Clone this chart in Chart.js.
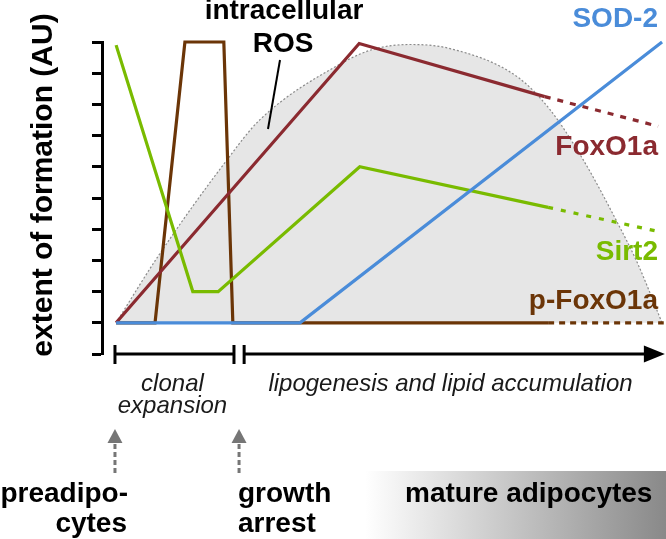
<!DOCTYPE html>
<html><head><meta charset="utf-8">
<script src="https://cdn.jsdelivr.net/npm/chart.js@4/dist/chart.umd.min.js"></script>
<style>html,body{margin:0;padding:0;background:#fff}canvas{display:block}</style>
</head><body>
<canvas id="c" width="666" height="539"></canvas>
<script>
// ---- data (schematic, arbitrary units) ----
const seriesNames = ['SOD-2', 'Sirt2', 'FoxO1a', 'p-FoxO1a', 'intracellular ROS'];
const sod2X = [2.5, 35.1, 99.3];
const sod2Y = [0, 0, 9];
const sirt2X = [2.5, 16.1, 20.6, 45.7, 79.1, 99.3];
const sirt2Y = [8.9, 1.0, 1.0, 5.0, 3.7, 2.9];
const foxo1aX = [2.5, 45.6, 78.5, 98.6];
const foxo1aY = [0, 8.95, 7.25, 6.3];
const pFoxo1aX = [2.5, 9.4, 14.7, 21.6, 23.2, 79.1, 99.6];
const pFoxo1aY = [0, 0, 9, 9, 0, 0, 0];
const rosX = [2.5, 9.9, 22.2, 28.0, 42.7, 48.0, 54.6, 61.7, 73.6, 79.4, 85.3, 91.3, 94.9, 99.3];
const rosY = [0, 2.12, 5.23, 6.51, 8.34, 8.76, 8.92, 8.79, 7.89, 6.84, 5.23, 3.24, 1.93, 0];
// index of first segment that is a projected (dashed) trend
const sirt2DashFrom = 4;
const foxo1aDashFrom = 2;
const pFoxo1aDashFrom = 5;
const yMin = -1, yMax = 9;
const yTitle = 'extent of formation (AU)';
const phaseLabels = [['clonal', 'expansion'], ['lipogenesis and lipid accumulation']];
const phaseStart = [2.3, 25.2];
const phaseEnd = [23.4, 99.8];
const stageLabels = [['preadipo-', 'cytes'], ['growth', 'arrest'], ['mature adipocytes']];
const stageX = [2.3, 24.3];

const zip = (xs, ys) => xs.map((x, i) => ({x, y: ys[i]}));
const FONT = '"Liberation Sans", Arial, Helvetica, sans-serif';
const C = {
  sod2: '#4a8cd9', sirt2: '#79bb00', foxo1a: '#8b2a30', pfoxo: '#6b3507',
  rosFill: '#e6e6e6', rosLine: '#8a8a8a'
};
const dashAfter = (n, d) => ({ borderDash: ctx => ctx.p0DataIndex >= n ? d : undefined });

const annot = {
  id: 'annot',
  afterDraw(chart) {
    const ctx = chart.ctx;
    const xs = chart.scales.x;
    const X = v => xs.getPixelForValue(v);
    const yb = chart.chartArea.bottom;
    ctx.save();
    // y-axis title
    ctx.save();
    ctx.translate(52, 185);
    ctx.rotate(-Math.PI / 2);
    ctx.font = 'bold 30px ' + FONT;
    ctx.fillStyle = '#000';
    ctx.textAlign = 'center';
    ctx.textBaseline = 'alphabetic';
    ctx.fillText(yTitle, 0, 0);
    ctx.restore();

    // series labels
    ctx.font = 'bold 28px ' + FONT;
    ctx.textAlign = 'right';
    ctx.textBaseline = 'alphabetic';
    const lx = 658;
    ctx.fillStyle = C.sod2; ctx.fillText(seriesNames[0], lx, 27);
    ctx.fillStyle = C.foxo1a; ctx.fillText(seriesNames[2], lx, 155);
    ctx.fillStyle = C.sirt2; ctx.fillText(seriesNames[1], lx, 260);
    ctx.fillStyle = C.pfoxo; ctx.fillText(seriesNames[3], lx, 309);
    // ROS label
    ctx.fillStyle = '#000';
    ctx.textAlign = 'center';
    const rosWords = seriesNames[4].split(' ');
    ctx.fillText(rosWords[0], 284, 19);
    ctx.fillText(rosWords[1], 283, 52);
    ctx.strokeStyle = '#000'; ctx.lineWidth = 2;
    ctx.beginPath(); ctx.moveTo(280, 60); ctx.lineTo(268, 129); ctx.stroke();

    // phase brackets
    const by = yb;
    ctx.strokeStyle = '#000'; ctx.fillStyle = '#000'; ctx.lineWidth = 3;
    const bar = x => { ctx.beginPath(); ctx.moveTo(x, by - 9); ctx.lineTo(x, by + 10); ctx.stroke(); };
    // phase 1
    ctx.beginPath(); ctx.moveTo(X(phaseStart[0]), by); ctx.lineTo(X(phaseEnd[0]), by); ctx.stroke();
    bar(X(phaseStart[0])); bar(X(phaseEnd[0]));
    // phase 2 arrow
    const tip = X(phaseEnd[1]);
    ctx.beginPath(); ctx.moveTo(X(phaseStart[1]), by); ctx.lineTo(tip - 18, by); ctx.stroke();
    bar(X(phaseStart[1]));
    ctx.beginPath(); ctx.moveTo(tip, by); ctx.lineTo(tip - 21, by - 8.5); ctx.lineTo(tip - 21, by + 8.5); ctx.closePath(); ctx.fill();

    // phase labels
    ctx.font = 'italic 24px ' + FONT;
    ctx.fillStyle = '#1a1a1a';
    ctx.textAlign = 'center';
    const c1 = (X(phaseStart[0]) + X(phaseEnd[0])) / 2 - 2;
    ctx.fillText(phaseLabels[0][0], c1, 391);
    ctx.fillText(phaseLabels[0][1], c1, 413);
    ctx.fillText(phaseLabels[1][0], (X(phaseStart[1]) + X(phaseEnd[1])) / 2 - 4, 391);

    // stage arrows
    ctx.fillStyle = '#767676'; ctx.strokeStyle = '#767676'; ctx.lineWidth = 3;
    stageX.forEach(v => {
      const x = X(v);
      ctx.beginPath(); ctx.moveTo(x, 429); ctx.lineTo(x - 7.5, 443); ctx.lineTo(x + 7.5, 443); ctx.closePath(); ctx.fill();
      ctx.setLineDash([5, 3]);
      ctx.beginPath(); ctx.moveTo(x, 444); ctx.lineTo(x, 473); ctx.stroke();
      ctx.setLineDash([]);
    });

    // mature adipocytes gradient
    const g = ctx.createLinearGradient(365, 0, 666, 0);
    g.addColorStop(0, 'rgba(255,255,255,1)');
    g.addColorStop(1, '#898989');
    ctx.fillStyle = g;
    ctx.fillRect(365, 471, 301, 68);

    // stage labels
    ctx.font = 'bold 28px ' + FONT;
    ctx.fillStyle = '#000';
    ctx.textAlign = 'right';
    ctx.fillText(stageLabels[0][0], 128, 502);
    ctx.fillText(stageLabels[0][1], 127, 532);
    ctx.textAlign = 'left';
    ctx.fillText(stageLabels[1][0], 238, 502);
    ctx.fillText(stageLabels[1][1], 238, 532);
    ctx.fillText(stageLabels[2][0], 405, 502);
    ctx.restore();
  }
};

const lineBase = { pointRadius: 0, borderWidth: 3.2, fill: false, clip: false, borderJoinStyle: 'miter', tension: 0 };

new Chart(document.getElementById('c'), {
  type: 'line',
  data: {
    datasets: [
      Object.assign({}, lineBase, { label: seriesNames[0], data: zip(sod2X, sod2Y), borderColor: C.sod2, order: 0 }),
      Object.assign({}, lineBase, { label: seriesNames[1], data: zip(sirt2X, sirt2Y), borderColor: C.sirt2, order: 1, segment: dashAfter(sirt2DashFrom, [5, 8]) }),
      Object.assign({}, lineBase, { label: seriesNames[2], data: zip(foxo1aX, foxo1aY), borderColor: C.foxo1a, order: 2, segment: dashAfter(foxo1aDashFrom, [6, 7]) }),
      Object.assign({}, lineBase, { label: seriesNames[3], data: zip(pFoxo1aX, pFoxo1aY), borderColor: C.pfoxo, order: 3, segment: dashAfter(pFoxo1aDashFrom, [6, 5]) }),
      { label: seriesNames[4], data: zip(rosX, rosY), borderColor: C.rosLine, backgroundColor: C.rosFill,
        borderWidth: 1.2, borderDash: [2, 2], pointRadius: 0, fill: 'origin', cubicInterpolationMode: 'monotone', clip: false, order: 4 }
    ]
  },
  options: {
    responsive: false,
    devicePixelRatio: 1,
    animation: false,
    events: [],
    layout: { padding: { top: 42, bottom: 185, left: 0, right: 0 } },
    plugins: { legend: { display: false }, tooltip: { enabled: false }, title: { display: false } },
    scales: {
      x: { type: 'linear', min: 0, max: 100, display: false },
      y: {
        type: 'linear', min: yMin, max: yMax,
        ticks: { display: false, stepSize: 1 },
        grid: { drawOnChartArea: false, drawTicks: true, tickLength: 10, tickWidth: 3, tickColor: '#000' },
        border: { display: true, color: '#000', width: 3 },
        afterFit: s => { s.width = 102; }
      }
    }
  },
  plugins: [annot]
});
</script>
</body></html>
